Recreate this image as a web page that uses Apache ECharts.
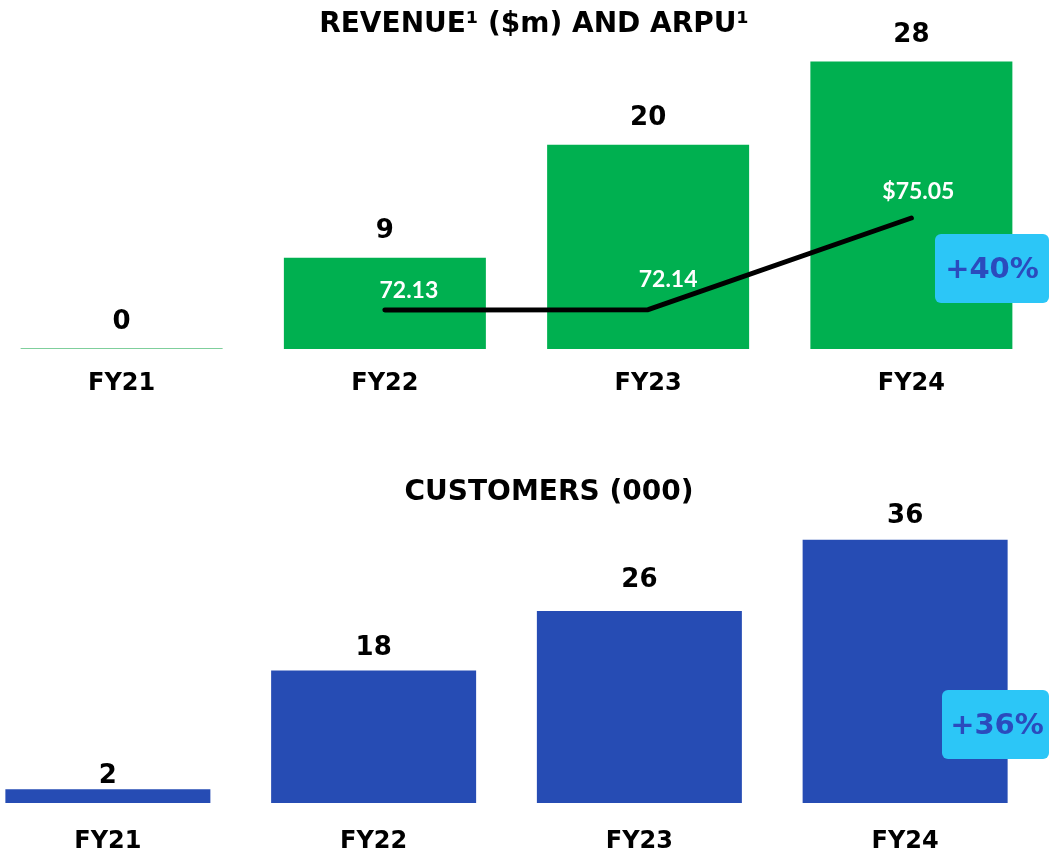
<!DOCTYPE html>
<html>
<head>
<meta charset="utf-8">
<script src="https://cdn.jsdelivr.net/npm/echarts@6/dist/echarts.min.js"></script>
<style>
  html, body { margin: 0; padding: 0; background: #fff; }
  #chart { width: 1049px; height: 859px; }
</style>
</head>
<body>
<div id="chart"></div>
<script>
// values
const years = ["FY21", "FY22", "FY23", "FY24"];
const revenue = [0, 8.9, 19.9, 28];            // $m
const arpu = [null, 72.13, 72.14, 75.05];        // $
const arpuText = ["", "72.13", "72.14", "$75.05"];
const customers = [1.9, 18.2, 26.4, 36.2];       // 000
const revenueGrowth = "+40%";
const customerGrowth = "+36%";

const FONT = "'DejaVu Sans', sans-serif";
const NUM_FONT = "Lato, sans-serif";
const GREEN = "#00b050";
const BLUE = "#264cb4";
const BADGE = "#2cc6f7";
const BADGE_TEXT = "#2b4bbd";

// layout tweaks only (label nudges)
const arpuOffsets = [[0, 0], [24, -19], [20, -30], [7, -26]];
const custGaps = [0, 9, 18, 10];

const chart = echarts.init(document.getElementById("chart"));

const titleStyle = { fontSize: 28, fontWeight: "bold", color: "#000", fontFamily: FONT };
const catLabel = { fontSize: 24, fontWeight: "bold", color: "#000", fontFamily: FONT };

const option = {
  animation: false,
  textStyle: { fontFamily: FONT },
  title: [
    { text: "REVENUE\u00b9 ($m) AND ARPU\u00b9", left: 529, textAlign: "center", top: 6, textStyle: titleStyle },
    { text: "CUSTOMERS (000)", left: 544, textAlign: "center", top: 474, textStyle: titleStyle },
  ],
  grid: [
    { left: -10, top: 41, width: 1053, height: 308, outerBoundsMode: "none", containLabel: false },
    { left: -25, top: 512, width: 1063, height: 291, outerBoundsMode: "none", containLabel: false },
  ],
  xAxis: [
    {
      type: "category",
      gridIndex: 0,
      data: years,
      axisLine: { show: false },
      axisTick: { show: false },
      axisLabel: Object.assign({ margin: 23 }, catLabel),
    },
    {
      type: "category",
      gridIndex: 1,
      data: years,
      axisLine: { show: false },
      axisTick: { show: false },
      axisLabel: Object.assign({ margin: 27 }, catLabel),
    },
  ],
  yAxis: [
    { type: "value", gridIndex: 0, min: 0, max: 30, show: false },
    { type: "value", gridIndex: 0, min: 70.89, max: 80.67, show: false },
    { type: "value", gridIndex: 1, min: 0, max: 40, show: false },
  ],
  series: [
    {
      name: "Revenue",
      type: "bar",
      xAxisIndex: 0,
      yAxisIndex: 0,
      barWidth: 202,
      barMinHeight: 1,
      itemStyle: { color: GREEN },
      data: revenue.map((v) =>
        v === 0 ? { value: v, itemStyle: { color: "#7fcf9c" } } : v
      ),
      label: {
        show: true,
        position: "top",
        distance: 13,
        fontSize: 26,
        fontWeight: "bold",
        color: "#000",
        fontFamily: FONT,
        formatter: (p) => Math.round(p.value),
      },
    },
    {
      name: "ARPU",
      type: "line",
      xAxisIndex: 0,
      yAxisIndex: 1,
      symbol: "circle",
      symbolSize: 1,
      itemStyle: { color: "#000" },
      lineStyle: { color: "#000", width: 5, cap: "round", join: "round" },
      data: arpu.map((v, i) => ({
        value: v,
        label: {
          show: v !== null,
          position: "inside",
          offset: arpuOffsets[i],
          formatter: arpuText[i],
        },
      })),
      label: {
        show: true,
        fontSize: 23,
        fontWeight: "bold",
        color: "#fff",
        fontFamily: NUM_FONT,
      },
      z: 5,
    },
    {
      name: "Customers",
      type: "bar",
      xAxisIndex: 1,
      yAxisIndex: 2,
      barWidth: 205,
      itemStyle: { color: BLUE },
      data: customers.map((v, i) => ({
        value: v,
        label: { distance: custGaps[i] },
      })),
      label: {
        show: true,
        position: "top",
        fontSize: 26,
        fontWeight: "bold",
        color: "#000",
        fontFamily: FONT,
        formatter: (p) => Math.round(p.value),
      },
    },
  ],
  graphic: [
    { type: "rect", z: 100, shape: { x: 935, y: 234, width: 114, height: 69, r: 6 }, style: { fill: BADGE } },
    {
      type: "text",
      z: 101,
      x: 992,
      y: 270,
      style: { text: revenueGrowth, fill: BADGE_TEXT, font: "bold 29px " + FONT, align: "center", verticalAlign: "middle" },
    },
    { type: "rect", z: 100, shape: { x: 942, y: 690, width: 107, height: 69, r: 6 }, style: { fill: BADGE } },
    {
      type: "text",
      z: 101,
      x: 997,
      y: 726,
      style: { text: customerGrowth, fill: BADGE_TEXT, font: "bold 29px " + FONT, align: "center", verticalAlign: "middle" },
    },
  ],
};

chart.setOption(option);
</script>
</body>
</html>
